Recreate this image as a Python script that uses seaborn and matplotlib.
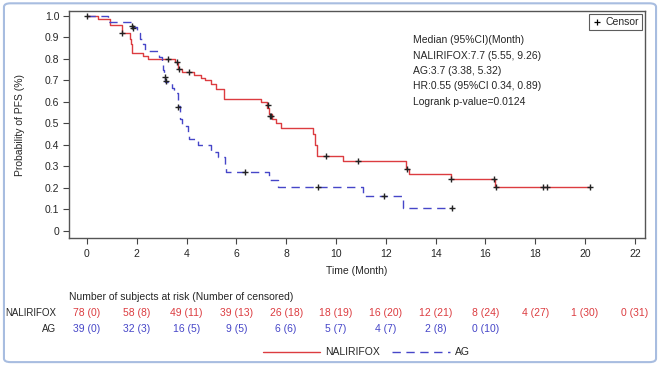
import numpy as np
import pandas as pd
import matplotlib
matplotlib.use("Agg")
import matplotlib.pyplot as plt
from matplotlib.lines import Line2D
from matplotlib.patches import FancyBboxPatch
import seaborn as sns

# ---- KM step curves (time, survival after the step) ----
nal_t = [0, 0.45, 0.92, 1.39, 1.73, 1.78, 1.83, 2.25, 2.45, 3.55, 3.65, 3.8,
         4.3, 4.6, 4.75, 5.0, 5.2, 5.5, 7.0, 7.25, 7.3, 7.45, 7.6, 7.78,
         9.07, 9.15, 9.22, 10.28, 12.8, 12.95, 14.6, 16.4, 20.2]
nal_s = [1.0, 0.987, 0.958, 0.92, 0.895, 0.87, 0.83, 0.815, 0.80, 0.785, 0.755, 0.741,
         0.727, 0.713, 0.70, 0.685, 0.66, 0.613, 0.598, 0.57, 0.545, 0.52, 0.50, 0.478,
         0.45, 0.40, 0.348, 0.327, 0.288, 0.266, 0.242, 0.206, 0.206]
nal_cens_t = [0, 1.42, 3.25, 3.62, 3.7, 4.1, 7.27, 7.36, 7.4, 9.6, 10.9, 12.84,
              14.62, 16.36, 16.43, 18.3, 18.46, 20.2]
nal_cens_s = [1.0, 0.92, 0.80, 0.785, 0.755, 0.741, 0.586, 0.535, 0.535, 0.348, 0.327, 0.288,
              0.242, 0.242, 0.206, 0.206, 0.206, 0.206]

ag_t = [0, 0.85, 1.8, 2.0, 2.13, 2.25, 2.33, 2.9, 3.0, 3.05, 3.1, 3.15,
        3.4, 3.5, 3.65, 3.75, 3.8, 4.05, 4.1, 4.45, 5.0, 5.27, 5.55, 5.6,
        7.3, 7.67, 11.1, 12.7, 14.65]
ag_s = [1.0, 0.974, 0.947, 0.92, 0.895, 0.868, 0.835, 0.81, 0.78, 0.75, 0.72, 0.695,
        0.665, 0.64, 0.58, 0.52, 0.49, 0.46, 0.43, 0.40, 0.369, 0.346, 0.30, 0.273,
        0.237, 0.203, 0.163, 0.107, 0.107]
ag_cens_t = [1.82, 1.87, 3.13, 3.17, 3.67, 6.35, 9.28, 11.93, 14.65]
ag_cens_s = [0.953, 0.946, 0.718, 0.698, 0.578, 0.273, 0.203, 0.163, 0.107]

# ---- risk table ----
risk_times = [0, 2, 4, 6, 8, 10, 12, 14, 16, 18, 20, 22]
nal_risk = ["78 (0)", "58 (8)", "49 (11)", "39 (13)", "26 (18)", "18 (19)", "16 (20)",
            "12 (21)", "8 (24)", "4 (27)", "1 (30)", "0 (31)"]
ag_risk = ["39 (0)", "32 (3)", "16 (5)", "9 (5)", "6 (6)", "5 (7)", "4 (7)", "2 (8)", "0 (10)"]

stats_lines = ["Median (95%CI)(Month)",
               "NALIRIFOX:7.7 (5.55, 9.26)",
               "AG:3.7 (3.38, 5.32)",
               "HR:0.55 (95%CI 0.34, 0.89)",
               "Logrank p-value=0.0124"]

RED = "#dc3c40"
BLUE = "#4646c8"
FS = 7.5

sns.set_style("white")
plt.rcParams['font.family'] = ['Liberation Sans', 'DejaVu Sans']
plt.rcParams['font.size'] = FS

curves = pd.concat([
    pd.DataFrame({'time': nal_t, 'surv': nal_s, 'arm': 'NALIRIFOX'}),
    pd.DataFrame({'time': ag_t, 'surv': ag_s, 'arm': 'AG'}),
])
cens = pd.concat([
    pd.DataFrame({'time': nal_cens_t, 'surv': nal_cens_s}),
    pd.DataFrame({'time': ag_cens_t, 'surv': ag_cens_s}),
])

fig = plt.figure(figsize=(6.6, 3.68), dpi=100)
ax = fig.add_axes([0.1045, 0.353, 0.8725, 0.617])

sns.lineplot(data=curves, x='time', y='surv', hue='arm', style='arm',
             palette={'NALIRIFOX': RED, 'AG': BLUE},
             dashes={'NALIRIFOX': '', 'AG': (6, 4)},
             estimator=None, sort=False, drawstyle='steps-post',
             linewidth=1.0, legend=False, ax=ax)
sns.scatterplot(data=cens, x='time', y='surv', marker='+', color='#222222',
                s=22, linewidth=1.0, ax=ax, zorder=5)

ax.set_xlim(-0.72, 22.4)
ax.set_ylim(-0.033, 1.023)
ax.set_xticks(risk_times)
ax.set_yticks(np.arange(0, 1.01, 0.1))
ax.set_yticklabels(['0'] + [f"{v:.1f}" for v in np.arange(0.1, 1.01, 0.1)])
ax.set_xlabel("Time (Month)", fontsize=FS, labelpad=5)
ax.set_ylabel("Probability of PFS (%)", fontsize=FS, labelpad=14)
ax.tick_params(axis='both', direction='out', length=4, width=0.8,
               bottom=True, left=True, color='#444444', labelsize=FS, pad=3)
ax.tick_params(axis='x', pad=4)
for sp in ax.spines.values():
    sp.set_color('#555555')
    sp.set_linewidth(1.0)

# stats annotation
for i, line in enumerate(stats_lines):
    ax.text(0.597, 0.872 - i * 0.068, line, transform=ax.transAxes,
            fontsize=FS, va='center', ha='left')

# censor legend
cens_handle = Line2D([], [], marker='+', color='black', linestyle='none',
                     markersize=5, markeredgewidth=0.9)
leg = ax.legend([cens_handle], ['Censor'], loc='upper right', fontsize=FS,
                frameon=True, fancybox=False, borderaxespad=0.3,
                handlelength=0.8, handletextpad=0.4, borderpad=0.3)
leg.get_frame().set_edgecolor('#333333')
leg.get_frame().set_linewidth(0.8)

# risk table
trans = ax.get_xaxis_transform()
ax.text(-0.7, -0.26, "Number of subjects at risk (Number of censored)",
        transform=trans, fontsize=FS, ha='left', va='center')
ax.text(-1.25, -0.33, "NALIRIFOX", transform=trans, fontsize=7, ha='right', va='center')
ax.text(-1.25, -0.40, "AG", transform=trans, fontsize=7, ha='right', va='center')
for t, lab in zip(risk_times, nal_risk):
    ax.text(t, -0.33, lab, transform=trans, fontsize=FS, ha='center', va='center',
            color=RED, clip_on=False)
for t, lab in zip(risk_times, ag_risk):
    ax.text(t, -0.40, lab, transform=trans, fontsize=FS, ha='center', va='center',
            color=BLUE, clip_on=False)

# bottom legend
handles = [Line2D([], [], color=RED, linewidth=1.0),
           Line2D([], [], color=BLUE, linewidth=1.0, linestyle=(0, (6, 4)))]
fig.legend(handles, ['NALIRIFOX', 'AG'], loc='center', bbox_to_anchor=(0.555, 0.043),
           ncol=2, frameon=False, fontsize=FS, handlelength=5.5, handletextpad=0.5,
           columnspacing=1.2)

# light blue frame round the figure
fig.patches.append(FancyBboxPatch((0.006, 0.016), 0.988, 0.975,
                                  boxstyle="round,pad=0,rounding_size=0.01",
                                  transform=fig.transFigure, fill=False,
                                  edgecolor='#a8bde0', linewidth=1.5))

fig.savefig("out.png", dpi=100)
